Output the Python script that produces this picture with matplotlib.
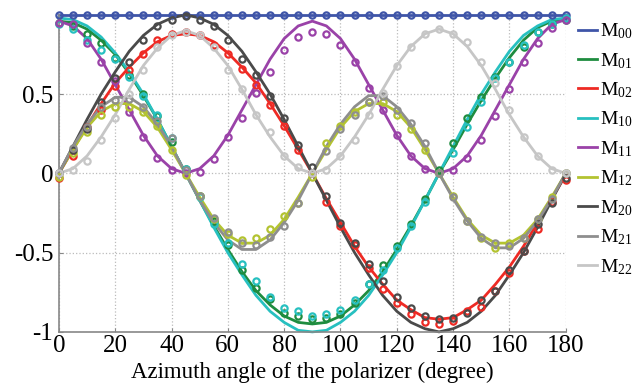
import matplotlib
matplotlib.use("Agg")
import matplotlib.pyplot as plt


# 1. Data (angle step 5 degrees)
angle = list(range(0, 181, 5))

names = ["00", "01", "02", "10", "11", "12", "20", "21", "22"]

colors = ["#3f55a8", "#1e8c3f", "#ee2a24", "#27c0c0", "#9a42a8",
          "#b3c331", "#4a4a4a", "#8e8e8e", "#c6c6c6"]

# fitted (theory) curves
m00_line = [1.0] * 37
m01_line = [0.96, 0.95, 0.91, 0.84, 0.75, 0.63, 0.49, 0.34, 0.17, 0.0, -0.17, -0.33,
            -0.48, -0.62, -0.74, -0.83, -0.90, -0.94, -0.95, -0.94, -0.90, -0.83, -0.74,
            -0.62, -0.48, -0.33, -0.17, 0.0, 0.15, 0.31, 0.46, 0.60, 0.73, 0.84, 0.92,
            0.96, 0.97]
m02_line = [0.0, 0.15, 0.30, 0.44, 0.57, 0.67, 0.76, 0.83, 0.87, 0.88, 0.87, 0.83,
            0.76, 0.67, 0.57, 0.44, 0.30, 0.15, 0.0, -0.16, -0.31, -0.46, -0.59, -0.70,
            -0.80, -0.86, -0.91, -0.92, -0.91, -0.86, -0.80, -0.70, -0.59, -0.46, -0.31,
            -0.16, -0.01]
m10_line = [0.98, 0.97, 0.93, 0.86, 0.76, 0.64, 0.50, 0.34, 0.17, 0.0, -0.17, -0.34,
            -0.50, -0.64, -0.77, -0.87, -0.94, -0.99, -1.0, -0.99, -0.94, -0.87, -0.77,
            -0.64, -0.50, -0.34, -0.17, 0.0, 0.17, 0.34, 0.50, 0.64, 0.77, 0.87, 0.93,
            0.97, 0.98]
m11_line = [0.96, 0.93, 0.85, 0.72, 0.56, 0.40, 0.24, 0.11, 0.03, 0.0, 0.03, 0.11,
            0.24, 0.40, 0.56, 0.72, 0.85, 0.93, 0.96, 0.93, 0.85, 0.72, 0.56, 0.40,
            0.24, 0.11, 0.03, 0.0, 0.03, 0.11, 0.24, 0.40, 0.56, 0.72, 0.85, 0.94, 0.97]
m12_line = [0.0, 0.15, 0.29, 0.39, 0.44, 0.44, 0.39, 0.29, 0.15, 0.0, -0.15, -0.29,
            -0.39, -0.44, -0.44, -0.39, -0.29, -0.15, 0.0, 0.15, 0.29, 0.39, 0.44, 0.44,
            0.39, 0.29, 0.15, 0.0, -0.15, -0.29, -0.39, -0.44, -0.44, -0.39, -0.29,
            -0.15, 0.0]
m20_line = [0.0, 0.17, 0.34, 0.50, 0.64, 0.77, 0.87, 0.94, 0.98, 1.0, 0.98, 0.94,
            0.87, 0.77, 0.64, 0.50, 0.34, 0.17, 0.0, -0.17, -0.34, -0.50, -0.64, -0.77,
            -0.87, -0.94, -0.98, -1.0, -0.98, -0.94, -0.87, -0.77, -0.64, -0.50, -0.34,
            -0.17, 0.0]
m21_line = [0.0, 0.17, 0.31, 0.42, 0.48, 0.48, 0.42, 0.31, 0.17, 0.0, -0.17, -0.31,
            -0.42, -0.48, -0.48, -0.42, -0.31, -0.17, 0.0, 0.17, 0.31, 0.42, 0.49, 0.49,
            0.42, 0.31, 0.17, 0.0, -0.16, -0.30, -0.41, -0.47, -0.47, -0.41, -0.30,
            -0.16, 0.0]
m22_line = [0.0, 0.03, 0.11, 0.23, 0.37, 0.53, 0.68, 0.79, 0.87, 0.90, 0.87, 0.79,
            0.68, 0.53, 0.37, 0.23, 0.11, 0.03, 0.0, 0.03, 0.11, 0.23, 0.37, 0.53, 0.68,
            0.80, 0.88, 0.91, 0.88, 0.80, 0.68, 0.53, 0.37, 0.23, 0.11, 0.03, 0.0]

# measured points
m00_meas = [1.0] * 37
m01_meas = [0.95, 0.93, 0.88, 0.82, 0.73, 0.62, 0.50, 0.36, 0.20, 0.03, -0.14, -0.30,
            -0.45, -0.61, -0.72, -0.79, -0.88, -0.90, -0.92, -0.91, -0.89, -0.82, -0.70,
            -0.58, -0.46, -0.32, -0.16, 0.02, 0.19, 0.35, 0.48, 0.61, 0.70, 0.80, 0.89,
            0.94, 0.97]
m02_meas = [-0.03, 0.11, 0.29, 0.40, 0.55, 0.65, 0.75, 0.84, 0.88, 0.89, 0.87, 0.81,
            0.75, 0.66, 0.56, 0.43, 0.30, 0.15, 0.0, -0.18, -0.33, -0.45, -0.60, -0.73,
            -0.82, -0.89, -0.94, -0.95, -0.93, -0.87, -0.84, -0.74, -0.63, -0.49, -0.35,
            -0.18, -0.04]
m10_meas = [0.94, 0.91, 0.84, 0.78, 0.72, 0.61, 0.49, 0.37, 0.22, 0.03, -0.15, -0.32,
            -0.44, -0.57, -0.68, -0.78, -0.85, -0.87, -0.90, -0.89, -0.86, -0.80, -0.70,
            -0.61, -0.47, -0.33, -0.18, 0.0, 0.13, 0.29, 0.45, 0.60, 0.70, 0.81, 0.89,
            0.94, 0.98]
m11_meas = [0.95, 0.94, 0.82, 0.70, 0.58, 0.39, 0.23, 0.10, 0.02, 0.0, 0.01, 0.09,
            0.23, 0.35, 0.51, 0.64, 0.78, 0.86, 0.89, 0.88, 0.81, 0.70, 0.54, 0.40,
            0.24, 0.11, 0.03, 0.0, 0.02, 0.10, 0.21, 0.36, 0.53, 0.70, 0.82, 0.92, 0.97]
m12_meas = [-0.02, 0.13, 0.26, 0.37, 0.42, 0.42, 0.39, 0.30, 0.15, -0.01, -0.14, -0.29,
            -0.38, -0.42, -0.41, -0.35, -0.27, -0.19, -0.02, 0.19, 0.30, 0.39, 0.45, 0.45,
            0.37, 0.28, 0.15, 0.0, -0.14, -0.30, -0.41, -0.47, -0.44, -0.41, -0.29,
            -0.15, 0.0]
m20_meas = [0.0, 0.15, 0.28, 0.45, 0.60, 0.70, 0.84, 0.93, 0.97, 0.99, 0.97, 0.93,
            0.84, 0.72, 0.62, 0.49, 0.35, 0.18, 0.04, -0.14, -0.31, -0.44, -0.57, -0.68,
            -0.78, -0.85, -0.90, -0.92, -0.91, -0.88, -0.80, -0.74, -0.61, -0.49, -0.32,
            -0.19, -0.03]
m21_meas = [0.0, 0.16, 0.29, 0.42, 0.46, 0.47, 0.42, 0.33, 0.22, 0.02, -0.14, -0.28,
            -0.37, -0.44, -0.45, -0.40, -0.33, -0.19, 0.0, 0.14, 0.28, 0.37, 0.45, 0.49,
            0.40, 0.32, 0.19, 0.0, -0.15, -0.30, -0.40, -0.44, -0.46, -0.41, -0.29,
            -0.16, 0.0]
m22_meas = [0.0, 0.02, 0.08, 0.21, 0.35, 0.50, 0.65, 0.80, 0.87, 0.89, 0.87, 0.80,
            0.65, 0.53, 0.37, 0.26, 0.11, 0.04, 0.0, 0.02, 0.11, 0.21, 0.37, 0.51, 0.68,
            0.80, 0.88, 0.91, 0.88, 0.83, 0.70, 0.57, 0.40, 0.23, 0.11, 0.02, 0.0]

lines = [m00_line, m01_line, m02_line, m10_line, m11_line,
         m12_line, m20_line, m21_line, m22_line]
meas = [m00_meas, m01_meas, m02_meas, m10_meas, m11_meas,
        m12_meas, m20_meas, m21_meas, m22_meas]


# 2. Style
plt.rcParams["font.family"] = "Liberation Serif"
plt.rcParams["mathtext.fontset"] = "custom"
plt.rcParams["mathtext.rm"] = "Liberation Serif"
plt.rcParams["mathtext.it"] = "Liberation Serif:italic"
plt.rcParams["axes.unicode_minus"] = False

fig = plt.figure(figsize=(6.4, 3.9), dpi=100)
ax = fig.add_axes([0.092, 0.149, 0.792, 0.813])


# 3. Draw curves and points
handles = []
for name, col, yl, ym in zip(names, colors, lines, meas):
    h, = ax.plot(angle, yl, color=col, lw=2.0, label="M$_{\\mathrm{" + name + "}}$",
                 clip_on=False, zorder=2)
    ax.plot(angle, ym, "o", color=col, mfc="none", ms=4.5, mew=1.6,
            clip_on=False, zorder=3)
    handles.append(h)


# 4. Axes
ax.set_xlim(0, 180)
ax.set_ylim(-1, 1)
ax.set_xticks(range(0, 181, 20))
ax.set_yticks([-1, -0.5, 0, 0.5])
ax.set_yticklabels(["-1", "-0.5", "0", "0.5"])
ax.tick_params(direction="in", length=3, color="#888888", labelsize=18)
ax.tick_params(axis="x", pad=2)
ax.tick_params(axis="y", pad=4)
ax.grid(True, linestyle=":", color="#bbbbbb", lw=0.9)

for side in ["top", "right"]:
    ax.spines[side].set_visible(False)
for side in ["left", "bottom"]:
    ax.spines[side].set_color("#888888")
    ax.spines[side].set_linewidth(1.2)

ax.set_xlabel("Azimuth angle of the polarizer (degree)", fontsize=16.5, labelpad=4)

ax.legend(handles=handles, loc="upper left", bbox_to_anchor=(0.903, 0.945),
          bbox_transform=fig.transFigure, frameon=False, fontsize=14,
          handlelength=1.0, handletextpad=0.15, labelspacing=0.5,
          borderpad=0, borderaxespad=0)

fig.savefig("out.png", dpi=100)
